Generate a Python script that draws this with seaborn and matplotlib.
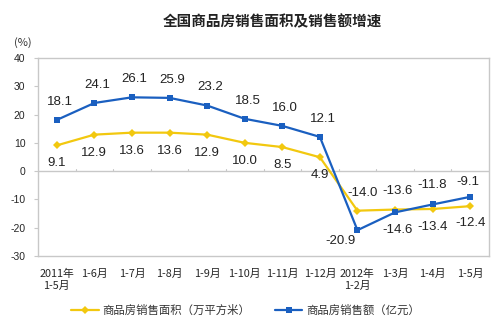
import matplotlib
matplotlib.use("Agg")
import matplotlib.pyplot as plt
import seaborn as sns
import pandas as pd

categories = ["2011年\n1-5月", "1-6月", "1-7月", "1-8月", "1-9月", "1-10月",
              "1-11月", "1-12月", "2012年\n1-2月", "1-3月", "1-4月", "1-5月"]
area_growth = [9.1, 12.9, 13.6, 13.6, 12.9, 10.0, 8.5, 4.9, -14.0, -13.6, -13.4, -12.4]
sales_growth = [18.1, 24.1, 26.1, 25.9, 23.2, 18.5, 16.0, 12.1, -20.9, -14.6, -11.8, -9.1]
area_name = "商品房销售面积（万平方米）"
sales_name = "商品房销售额（亿元）"
title = "全国商品房销售面积及销售额增速"
yticks = [-30, -20, -10, 0, 10, 20, 30, 40]

sns.set_style("white")
plt.rcParams["font.family"] = ["Noto Sans CJK SC", "DejaVu Sans"]

yellow = "#F2C80F"
blue = "#1A5FC0"
frame_gray = "#C8C8C8"

df = pd.DataFrame({
    "pos": list(range(len(categories))) * 2,
    "value": area_growth + sales_growth,
    "series": [area_name] * len(categories) + [sales_name] * len(categories),
})

fig = plt.figure(figsize=(5.0, 3.26), dpi=100)
ax = fig.add_axes([0.076, 0.215, 0.902, 0.607])

sns.lineplot(data=df, x="pos", y="value", hue="series", style="series",
             palette={area_name: yellow, sales_name: blue},
             markers={area_name: "D", sales_name: "s"},
             dashes=False, linewidth=1.6, markersize=4.5, markeredgewidth=0,
             ax=ax, legend=True)

ax.set_xlim(-0.5, len(categories) - 0.5)
ax.set_ylim(-30, 40)
ax.set_yticks(yticks)
ax.set_yticklabels([str(v) for v in yticks], family="Liberation Sans", fontsize=7.5)
ax.set_xticks(range(len(categories)))
ax.set_xticklabels(categories, fontsize=7.8, linespacing=1.3)
ax.tick_params(axis="x", length=0, pad=9)
ax.tick_params(axis="y", length=3, width=0.8, color=frame_gray, pad=6, left=True)
ax.set_xlabel("")
ax.set_ylabel("")
for s in ax.spines.values():
    s.set_color(frame_gray)
    s.set_linewidth(1.0)

# zero line with category separator ticks
ax.axhline(0, color=frame_gray, linewidth=1.0, zorder=1)
for b in range(1, len(categories)):
    ax.plot([b - 0.5, b - 0.5], [0, 0.9], color=frame_gray, linewidth=0.8, zorder=1)

# value labels
label_font = dict(family="Liberation Sans", fontsize=9.5, color="#222222",
                  ha="center", va="center")
area_off = [(0, -13)] * 8 + [(4, 13), (2, 13), (0, -13), (0, -12)]
sales_off = [(2, 13)] * 8 + [(-12, -8), (2, -13), (0, 14), (-2, 11)]
for i, v in enumerate(area_growth):
    ax.annotate(f"{v:.1f}", (i, v), xytext=area_off[i], textcoords="offset points",
                **label_font)
for i, v in enumerate(sales_growth):
    ax.annotate(f"{v:.1f}", (i, v), xytext=sales_off[i], textcoords="offset points",
                **label_font)

fig.text(0.544, 0.935, title, ha="center", va="center", fontsize=10.5,
         fontweight="bold", color="#222222")
fig.text(0.046, 0.87, "(%)", ha="center", va="center", fontsize=8, color="#333333")

leg = ax.legend(loc="center", bbox_to_anchor=(0.46, -0.275), ncol=2, frameon=False,
                fontsize=8.2, handlelength=2.4, columnspacing=2.2, handletextpad=0.3)
for t in leg.get_texts():
    t.set_color("#333333")

fig.savefig("out.png", dpi=100)
